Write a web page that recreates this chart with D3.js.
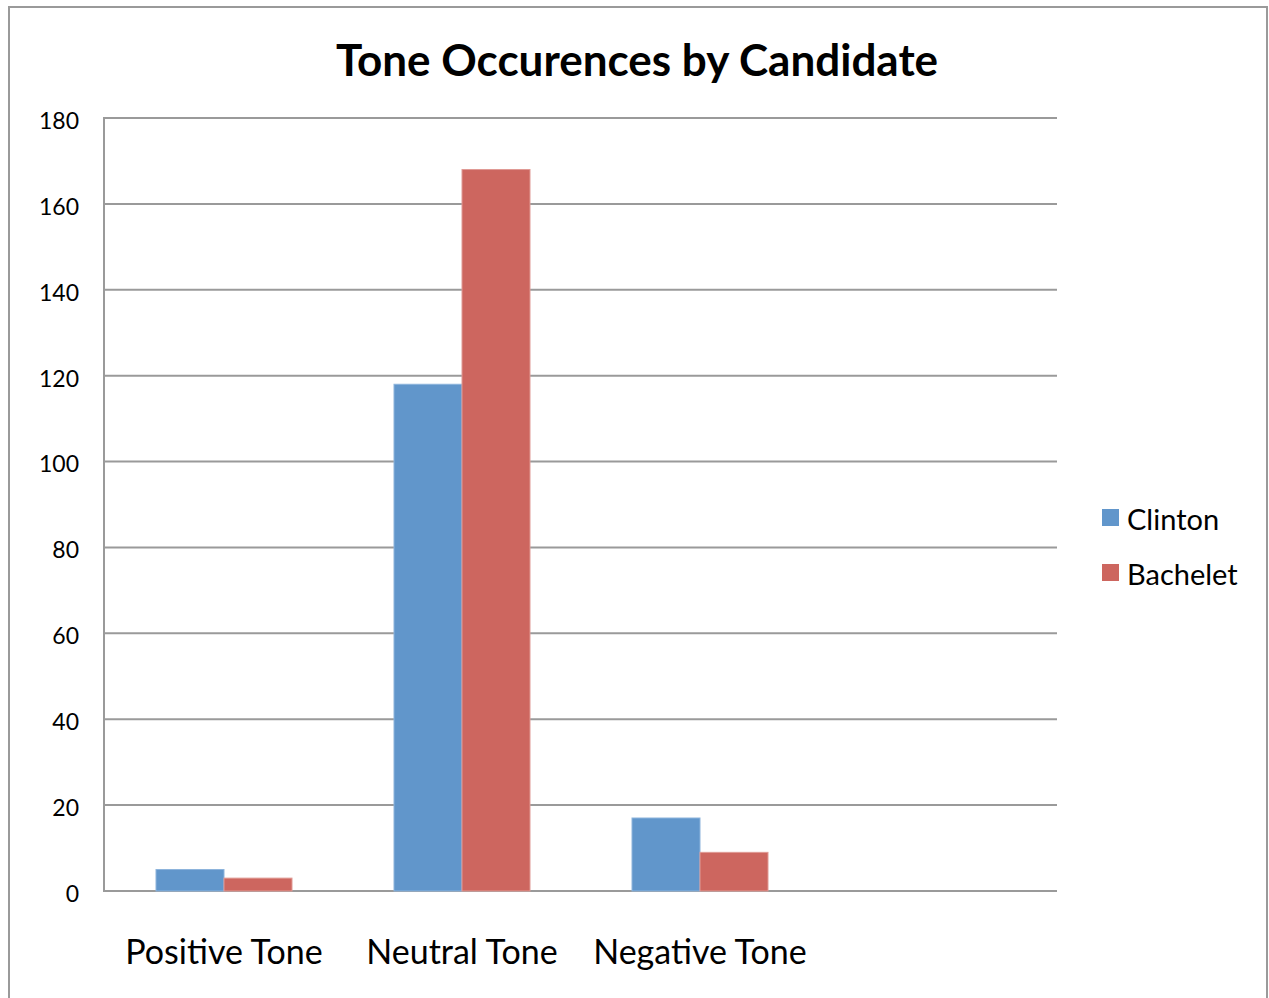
<!DOCTYPE html>
<html>
<head>
<meta charset="utf-8">
<script src="https://cdn.jsdelivr.net/npm/d3@7"></script>
<style>
  html, body { margin: 0; padding: 0; background: #fff; }
  svg { display: block; font-family: Lato, "Open Sans", sans-serif; }
</style>
</head>
<body>
<svg id="chart" width="1269" height="998"></svg>
<script>
// Tone counts per candidate; the fourth slot is an empty category
const categories = ["Positive Tone", "Neutral Tone", "Negative Tone", ""];
const seriesNames = ["Clinton", "Bachelet"];
const clinton = [5, 118, 17, null];
const bachelet = [3, 168, 9, null];
const yTicks = [0, 20, 40, 60, 80, 100, 120, 140, 160, 180];
const colors = ["#6196CB", "#CD665F"];

const svg = d3.select("#chart");

// outer frame
svg.append("rect")
  .attr("x", 9).attr("y", 7)
  .attr("width", 1258).attr("height", 1000)
  .attr("fill", "#fff")
  .attr("stroke", "#9a9a9a").attr("stroke-width", 2);

const plot = { left: 105, right: 1057, top: 118, bottom: 891 };

const x = d3.scaleBand()
  .domain(categories.map((c, i) => i))
  .range([plot.left, plot.right])
  .paddingInner(0).paddingOuter(0);

const xs = d3.scaleBand()
  .domain(seriesNames)
  .range([0, x.bandwidth()])
  .paddingInner(0)
  .paddingOuter(0.75);

const y = d3.scaleLinear().domain([0, 180]).range([plot.bottom, plot.top]);

// horizontal gridlines
svg.append("g")
  .selectAll("line")
  .data(yTicks)
  .join("line")
  .attr("x1", plot.left).attr("x2", plot.right)
  .attr("y1", d => y(d)).attr("y2", d => y(d))
  .attr("stroke", "#9a9a9a").attr("stroke-width", 2);

// y axis line
svg.append("line")
  .attr("x1", plot.left - 1).attr("x2", plot.left - 1)
  .attr("y1", plot.top - 1).attr("y2", plot.bottom + 1)
  .attr("stroke", "#9a9a9a").attr("stroke-width", 2);

// y tick labels
const yAxis = d3.axisLeft(y).tickValues(yTicks).tickSize(0).tickPadding(26);
const gy = svg.append("g").attr("transform", `translate(${plot.left},0)`).call(yAxis);
gy.select(".domain").remove();
gy.selectAll("text")
  .attr("font-family", "Lato, 'Open Sans', sans-serif")
  .attr("font-size", 23).attr("fill", "#000")
  .attr("dy", "0.45em");

// bars
const series = [clinton, bachelet];
series.forEach((vals, si) => {
  svg.append("g")
    .selectAll("rect")
    .data(vals.map((v, i) => ({ v, i })).filter(d => d.v != null))
    .join("rect")
    .attr("x", d => x(d.i) + xs(seriesNames[si]))
    .attr("width", xs.bandwidth())
    .attr("y", d => y(d.v))
    .attr("height", d => y(0) - y(d.v))
    .attr("fill", colors[si])
    .attr("stroke", si === 0 ? "#8db4dc" : "#e09a95")
    .attr("stroke-width", 1);
});

// category labels
const xAxis = d3.axisBottom(x).tickFormat(i => categories[i]).tickSize(0).tickPadding(49);
const gx = svg.append("g").attr("transform", `translate(0,${plot.bottom})`).call(xAxis);
gx.select(".domain").remove();
gx.selectAll("text")
  .attr("font-family", "Lato, 'Open Sans', sans-serif")
  .attr("font-size", 34).attr("fill", "#000");

// title
svg.append("text")
  .attr("x", 637).attr("y", 76)
  .attr("text-anchor", "middle")
  .attr("font-size", 44).attr("font-weight", "bold")
  .attr("fill", "#000")
  .text("Tone Occurences by Candidate");

// legend
const legend = svg.append("g").attr("transform", "translate(1102,509)");
seriesNames.forEach((name, i) => {
  const g = legend.append("g").attr("transform", `translate(0,${i * 55})`);
  g.append("rect").attr("width", 17).attr("height", 17).attr("fill", colors[i]);
  g.append("text").attr("x", 25).attr("y", 11).attr("dy", "0.36em")
    .attr("font-size", 29).attr("fill", "#000").text(name);
});
</script>
</body>
</html>
